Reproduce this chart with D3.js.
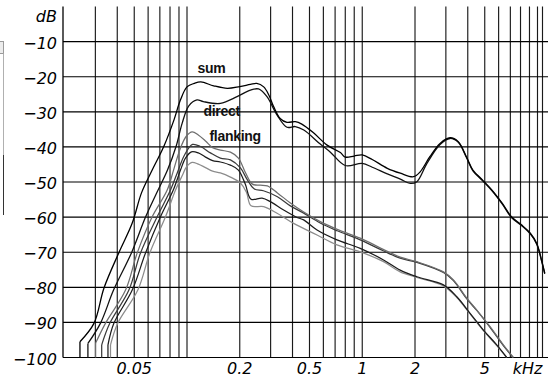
<!DOCTYPE html>
<html><head><meta charset="utf-8">
<script src="https://cdn.jsdelivr.net/npm/d3@7"></script>
<style>
html,body{margin:0;padding:0;background:#fff;overflow:hidden;}
svg{display:block;}
.tick{font-family:"DejaVu Sans",sans-serif;font-style:italic;font-size:16px;fill:#000;}
.lbl{font-family:"Liberation Sans",Arial,sans-serif;font-weight:bold;font-size:14px;letter-spacing:-0.3px;fill:#111;}
</style></head><body>
<svg id="c" width="548" height="382"></svg>
<script>
// ---------- data ----------
const yTickValues = [-10,-20,-30,-40,-50,-60,-70,-80,-90,-100];
const xLabelFreqs = [0.05,0.2,0.5,1,2,5];
const xLabelTexts = ["0.05","0.2","0.5","1","2","5"];
const xUnit = "kHz", yUnit = "dB";

const sumF  = [0.0245,0.0245,0.0295,0.0336,0.0408,0.0487,0.055,0.0633,0.0737,0.0843,0.0918,0.1,0.11,0.12,0.142,0.17,0.2,0.23,0.25,0.274,0.293,0.312,0.34,0.372,0.415,0.452,0.527,0.63,0.75,0.8,0.9,1.0,1.14,1.39,1.65,1.96,2.14,2.43,2.78,3.17,3.53,3.93,4.28,4.85,5.5,6.3,7.1,8.1,9.1,9.9,10.6,11.0];
const sumDb = [-100,-95.5,-90.2,-80.2,-70.2,-61.7,-53.1,-46.6,-39.9,-32.3,-26.6,-22.9,-21.9,-21.5,-22.6,-23.3,-22.8,-22.2,-21.9,-22.9,-25.2,-28.5,-31.9,-33.0,-32.8,-33.5,-36.0,-39.5,-41.6,-42.9,-42.6,-42.3,-43.6,-46.1,-47.5,-48.5,-47.1,-42.8,-39.0,-37.4,-38.5,-42.8,-46.6,-49.4,-52.3,-56.1,-59.9,-62.2,-64.6,-67.5,-72.7,-76.0];

const directF  = [0.0272,0.0272,0.0321,0.0381,0.0482,0.058,0.0663,0.0774,0.0866,0.0938,0.1024,0.114,0.124,0.155,0.193,0.23,0.256,0.286,0.326,0.372,0.415,0.464,0.576,0.658,0.8,1.0,1.14,1.39,1.65,1.88,2.05,2.34,2.78,3.17,3.53,3.93,4.28,4.85,5.5,6.3,7.1,8.1,9.1,9.9,10.6,11.0];
const directDb = [-100,-96.0,-90.2,-80.8,-70.2,-60.0,-53.7,-46.6,-39.9,-33.3,-28.3,-26.6,-27.1,-27.6,-25.7,-23.8,-23.5,-25.7,-30.9,-34.4,-34.2,-35.2,-39.2,-41.5,-45.3,-44.7,-45.8,-47.7,-49.2,-50.4,-49.9,-44.7,-39.3,-37.6,-38.7,-43.0,-46.8,-49.6,-52.5,-56.3,-60.1,-62.4,-64.8,-67.7,-72.9,-76.2];

const flank1F  = [0.0301,0.0301,0.0343,0.0446,0.052,0.0633,0.0771,0.0838,0.0918,0.0993,0.107,0.116,0.1275,0.14,0.155,0.177,0.1965,0.215,0.236,0.262,0.2875,0.328,0.389,0.461,0.576,0.72,0.974,1.317,1.646,2.05,2.905,3.313,3.951,4.504,5.362,6.386,7.28];
const flank1Db = [-100,-95.9,-90.2,-80.8,-70.2,-59.9,-52.3,-46.6,-40.3,-36.9,-35.7,-36.6,-38.3,-40.2,-40.9,-41.5,-43.2,-47.2,-50.6,-50.9,-51.1,-53.1,-56.0,-58.5,-61.3,-63.5,-66.0,-69.2,-71.4,-72.7,-75.6,-77.9,-83.1,-86.5,-91.2,-96.4,-100];

const flank2F  = [0.0326,0.0326,0.0363,0.0466,0.0543,0.0676,0.0805,0.0883,0.0968,0.1075,0.1194,0.136,0.155,0.177,0.2018,0.2211,0.2425,0.2729,0.328,0.389,0.461,0.576,0.72,0.974,1.317,1.646,2.05,2.905,3.313,3.951,4.504,5.362,6.386,7.25];
const flank2Db = [-100,-96.4,-90.2,-80.8,-70.2,-59.9,-52.3,-47.2,-42.3,-39.3,-39.9,-41.7,-43.2,-43.7,-46.0,-49.4,-52.0,-52.5,-54.2,-56.8,-58.8,-61.7,-63.9,-66.5,-69.6,-71.7,-72.9,-75.8,-78.1,-83.3,-86.6,-91.4,-96.6,-100];

const flank3F  = [0.0354,0.0354,0.0383,0.0487,0.058,0.0706,0.0835,0.0918,0.098,0.106,0.116,0.1275,0.14,0.155,0.177,0.1965,0.215,0.232,0.2683,0.2991,0.3561,0.4246,0.463,0.552,0.7173,0.974,1.3224,1.646,2.05,2.905,3.464,4.125,4.912,5.854,6.675];
const flank3Db = [-100,-96.4,-90.2,-80.8,-70.2,-59.9,-52.3,-46.6,-43.2,-41.4,-41.7,-42.9,-43.9,-44.3,-45.2,-46.6,-50.6,-54.9,-54.6,-55.6,-58.0,-60.1,-60.8,-63.7,-66.5,-68.9,-72.2,-75.1,-77.0,-79.3,-82.7,-87.4,-92.2,-96.4,-100];

const flank4F  = [0.0366,0.0366,0.0403,0.0524,0.0614,0.0754,0.086,0.0943,0.0993,0.1068,0.116,0.1275,0.14,0.155,0.177,0.2018,0.2183,0.232,0.274,0.3266,0.406,0.552,0.7173,0.974,1.3224,1.646,2.05,2.905,3.464,4.125,4.912,5.854,6.675];
const flank4Db = [-100,-96.4,-90.2,-80.8,-70.2,-59.9,-52.3,-48.0,-45.7,-44.4,-44.9,-45.9,-46.9,-47.4,-48.6,-50.3,-52.9,-56.8,-57.0,-58.9,-61.8,-65.1,-67.9,-69.9,-72.7,-75.6,-77.2,-79.6,-82.9,-87.6,-92.3,-96.6,-100];

const curveLabels = ["sum","direct","flanking"];
const curveLabelF = [0.1148,0.1242,0.1344];
const curveLabelDb = [-19.0,-31.3,-38.3];

// ---------- layout ----------
const plotLeft = 63, plotRight = 548, frameRight = 542.5, plotTop = 6.5, plotBottom = 357.5;

const svg = d3.select("#c");
const x = d3.scaleLog().domain([0.1, 10]).range([187, 537.5]);
const y = d3.scaleLinear().domain([-100, 0]).range([plotBottom, plotTop]);

// neighbour-panel remnant at the far left edge
svg.append("rect").attr("x",-2).attr("y",41.5).attr("width",5.5).attr("height",12)
  .attr("fill","#ececec").attr("stroke","#9a9a9a").attr("stroke-width",1);
svg.append("line").attr("x1",3.5).attr("x2",3.5).attr("y1",53.5).attr("y2",155)
  .attr("stroke","#b0b0b0").attr("stroke-width",1);
svg.append("line").attr("x1",3.5).attr("x2",3.5).attr("y1",155).attr("y2",215)
  .attr("stroke","#333").attr("stroke-width",1);

// grid
const g = svg.append("g");
const gridF = x.copy().domain([0.02, 10]).ticks().filter(d => d > 0.025);
g.selectAll(".vg").data(gridF).join("line")
  .attr("x1", d => x(d)).attr("x2", d => x(d))
  .attr("y1", plotTop).attr("y2", plotBottom)
  .attr("stroke", "#1a1a1a").attr("stroke-width", 1.15);
g.append("line").attr("x1",plotLeft).attr("x2",plotLeft).attr("y1",plotTop).attr("y2",plotBottom)
  .attr("stroke","#000").attr("stroke-width",1.3);
g.append("line").attr("x1",frameRight).attr("x2",frameRight).attr("y1",plotTop).attr("y2",plotBottom)
  .attr("stroke","#1a1a1a").attr("stroke-width",1.15);
g.selectAll(".hg").data(yTickValues).join("line")
  .attr("x1", plotLeft).attr("x2", plotRight)
  .attr("y1", d => y(d)).attr("y2", d => y(d))
  .attr("stroke", "#000").attr("stroke-width", 1.15);

// clip
svg.append("clipPath").attr("id","clip").append("rect")
  .attr("x",plotLeft).attr("y",plotTop).attr("width",plotRight-plotLeft).attr("height",plotBottom-plotTop+1);

const series = [
  {f: flank4F, db: flank4Db, color: "#8c8c8c", w: 1.25},
  {f: flank3F, db: flank3Db, color: "#1c1c1c", w: 1.25},
  {f: flank2F, db: flank2Db, color: "#3a3a3a", w: 1.25},
  {f: flank1F, db: flank1Db, color: "#6e6e6e", w: 1.25},
  {f: directF, db: directDb, color: "#111", w: 1.3},
  {f: sumF, db: sumDb, color: "#000", w: 1.3}
];
const lineLin = d3.line();
const lineSmooth = d3.line().curve(d3.curveCatmullRom.alpha(0.5));
const cg = svg.append("g").attr("clip-path","url(#clip)");
series.forEach(s => {
  const pts = s.f.map((f,i) => [x(f), y(s.db[i])]);
  cg.append("path").attr("d", lineLin(pts.slice(0,2)))
    .attr("fill","none").attr("stroke",s.color).attr("stroke-width",s.w);
  cg.append("path").attr("d", lineSmooth(pts.slice(1)))
    .attr("fill","none").attr("stroke",s.color).attr("stroke-width",s.w)
    .attr("stroke-linejoin","round");
});

// curve labels
svg.selectAll(".lbl").data(curveLabels).join("text")
  .attr("class","lbl")
  .attr("x",(d,i)=>x(curveLabelF[i])).attr("y",(d,i)=>y(curveLabelDb[i]))
  .text(d=>d);

// y tick labels
svg.selectAll(".yt").data(yTickValues).join("text")
  .attr("class","tick").attr("text-anchor","end")
  .attr("x", 57).attr("y", d => y(d) + 7)
  .text(d => "\u2212" + Math.abs(d));
svg.append("text").attr("class","tick").attr("text-anchor","end")
  .attr("x",57).attr("y", y(0) + 15).text(yUnit);

// x tick labels
svg.selectAll(".xt").data(xLabelFreqs).join("text")
  .attr("class","tick").attr("text-anchor","middle")
  .attr("x", d => x(d)).attr("y", plotBottom + 16.5)
  .text((d,i) => xLabelTexts[i]);
svg.append("text").attr("class","tick").attr("text-anchor","end")
  .attr("x", frameRight).attr("y", plotBottom + 16.5).text(xUnit);
</script>
</body></html>
